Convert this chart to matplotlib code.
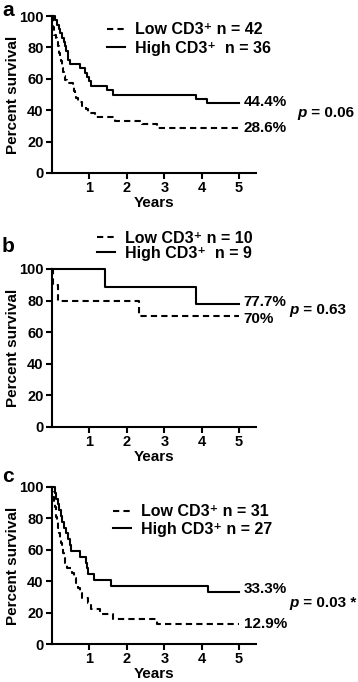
import matplotlib
matplotlib.use("Agg")
import matplotlib.pyplot as plt
from matplotlib.lines import Line2D

plt.rcParams['font.family'] = ['Liberation Sans', 'DejaVu Sans']
plt.rcParams['font.weight'] = 'bold'

# ---------------- data ----------------
a_low_t = [0, 0.02, 0.03, 0.04, 0.05, 0.06, 0.10, 0.13, 0.16, 0.18, 0.20, 0.22, 0.24, 0.26, 0.28, 0.30,
           0.33, 0.36, 0.40, 0.57, 0.60, 0.62, 0.65, 0.70, 0.80, 0.90, 0.97, 1.15, 1.68, 2.40, 2.80, 5.0]
a_low_s = [100, 97.6, 95.2, 92.9, 90.5, 88.1, 85.7, 83.3, 81.0, 78.6, 76.2, 73.8, 71.4, 69.0, 66.7, 64.3,
           61.9, 59.5, 57.1, 54.8, 52.4, 50.0, 47.6, 45.2, 42.9, 40.5, 38.1, 35.7, 33.3, 31.0, 28.6, 28.6]
a_high_t = [0, 0.08, 0.13, 0.18, 0.22, 0.27, 0.31, 0.34, 0.38, 0.42, 0.44, 0.47, 0.75, 0.88, 0.93, 0.98,
            1.05, 1.48, 1.62, 3.84, 4.14, 5.0]
a_high_s = [100, 97.2, 94.4, 91.7, 88.9, 86.1, 83.3, 80.6, 77.8, 75.0, 72.2, 69.4, 66.7, 63.9, 61.1, 58.3,
            55.6, 52.8, 50.0, 47.2, 44.4, 44.4]

b_low_t = [0, 0.02, 0.17, 2.33, 5.0]
b_low_s = [100, 90.0, 80.0, 70.0, 70.0]
b_high_t = [0, 1.42, 3.84, 5.0]
b_high_s = [100, 88.9, 77.7, 77.7]

c_low_t = [0, 0.01, 0.03, 0.06, 0.08, 0.10, 0.12, 0.14, 0.17, 0.19, 0.22, 0.25, 0.28, 0.30, 0.33, 0.36,
           0.39, 0.53, 0.58, 0.64, 0.70, 0.75, 0.80, 0.97, 1.04, 1.28, 1.64, 2.80, 5.0]
c_low_s = [100, 96.8, 93.5, 90.3, 87.1, 83.9, 80.6, 77.4, 74.2, 71.0, 67.7, 64.5, 61.3, 58.1, 54.8, 51.6,
           48.4, 45.2, 41.9, 38.7, 35.5, 32.3, 29.0, 25.8, 22.6, 19.4, 16.1, 12.9, 12.9]
c_high_t = [0, 0.08, 0.12, 0.16, 0.20, 0.24, 0.28, 0.32, 0.38, 0.42, 0.47, 0.50, 0.74, 0.90, 0.94, 0.97,
            1.12, 1.58, 4.16, 5.0]
c_high_s = [100, 96.3, 92.6, 88.9, 85.2, 81.5, 77.8, 74.1, 70.4, 66.7, 63.0, 59.3, 55.6, 51.9, 48.1, 44.4,
            40.7, 37.0, 33.3, 33.3]

panels = ['a', 'b', 'c']
low_labels = ['Low CD3\u207a n = 42', 'Low CD3\u207a n = 10', 'Low CD3\u207a n = 31']
high_labels = ['High CD3\u207a  n = 36', 'High CD3\u207a  n = 9', 'High CD3\u207a n = 27']
final_low = ['28.6%', '70%', '12.9%']
final_high = ['44.4%', '77.7%', '33.3%']
p_values = ['0.06', '0.63', '0.03 *']

x_ticks = [1, 2, 3, 4, 5]
y_ticks = [0, 20, 40, 60, 80, 100]

lows = [(a_low_t, a_low_s), (b_low_t, b_low_s), (c_low_t, c_low_s)]
highs = [(a_high_t, a_high_s), (b_high_t, b_high_s), (c_high_t, c_high_s)]

# ---------------- layout ----------------
W, H = 358, 682
fig = plt.figure(figsize=(W / 100, H / 100), dpi=100)

ax_left, ax_right = 52, 256
ax_tops = [16, 269, 487]
ax_bots = [173, 427, 644]
legend_anchor = [(0.27, 0.961), (0.221, 1.240), (0.299, 0.891)]
legend_spacing = [0.24, 0.0, 0.16]
low_label_off = [0, -1.5, 0]
high_label_off = [1, 1.5, 2]
p_pos = [(6.55, 38.5), (6.34, 74), (6.34, 26)]
letter_pos = [(8, 10), (8, 246), (8, 476)]

fs_tick = 10.5
fs_text = 11
fs_leg = 11.5
for i in range(3):
    top, bot = ax_tops[i], ax_bots[i]
    ax = fig.add_axes([ax_left / W, 1 - bot / H, (ax_right - ax_left) / W, (bot - top) / H])
    lt, ls = lows[i]
    ht, hs = highs[i]
    ax.step(lt, ls, where='post', color='black', lw=1.5, dashes=(3, 2), clip_on=False,
            label=low_labels[i])
    ax.step(ht, hs, where='post', color='black', lw=1.5, clip_on=False, label=high_labels[i])
    ax.set_xlim(0, 5.45)
    ax.set_ylim(0, 100)
    ax.set_xticks(x_ticks)
    ax.set_yticks(y_ticks)
    for s in ['top', 'right']:
        ax.spines[s].set_visible(False)
    for s in ['left', 'bottom']:
        ax.spines[s].set_linewidth(1.5)
    ax.tick_params(direction='out', length=4, width=1.5, labelsize=fs_tick, pad=2)
    ax.set_xlabel('Years', fontsize=fs_text, fontweight='bold')
    ax.set_ylabel('Percent survival', fontsize=fs_text, fontweight='bold')
    ax.xaxis.set_label_coords(0.5, -0.145)
    ax.yaxis.set_label_coords(-0.155, 0.5)
    handles = [Line2D([], [], color='black', lw=1.5, dashes=(3, 2)),
               Line2D([], [], color='black', lw=1.5)]
    ax.legend(handles, [low_labels[i], high_labels[i]], loc='upper left',
              bbox_to_anchor=legend_anchor[i], frameon=False, fontsize=fs_leg,
              handlelength=1.12, handletextpad=0.62, borderpad=0, borderaxespad=0,
              labelspacing=legend_spacing[i])
    ax.text(5.12, ls[-1] + low_label_off[i], final_low[i], fontsize=fs_text, va='center', ha='left')
    ax.text(5.12, hs[-1] + high_label_off[i], final_high[i], fontsize=fs_text, va='center', ha='left')
    pt = ax.text(p_pos[i][0], p_pos[i][1], 'p', fontsize=fs_text, style='italic', va='center', ha='left')
    ax.annotate(' = ' + p_values[i], xy=(1, 0), xycoords=pt, fontsize=fs_text, va='bottom', ha='left')
    fig.text(letter_pos[i][0] / W, 1 - letter_pos[i][1] / H, panels[i], fontsize=15,
             fontweight='bold', ha='center', va='center')

fig.savefig('out.png', dpi=100)
